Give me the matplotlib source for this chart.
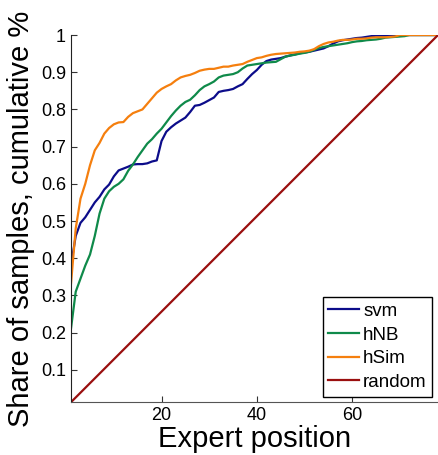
import numpy as np
import matplotlib
matplotlib.use('Agg')
import matplotlib.pyplot as plt

plt.rcParams['font.family'] = ['Liberation Sans', 'DejaVu Sans']

# cumulative share of samples by expert position (positions 1..78)
positions = np.arange(1, 79)

svm = [0.38, 0.46, 0.495, 0.51, 0.53, 0.55, 0.565, 0.585, 0.598, 0.62,
       0.636, 0.641, 0.646, 0.652, 0.653, 0.653, 0.655, 0.66, 0.663, 0.715,
       0.74, 0.752, 0.762, 0.77, 0.778, 0.793, 0.81, 0.812, 0.818, 0.825,
       0.832, 0.847, 0.85, 0.852, 0.855, 0.862, 0.868, 0.882, 0.895, 0.906,
       0.92, 0.93, 0.934, 0.936, 0.938, 0.942, 0.945, 0.948, 0.951, 0.953,
       0.955, 0.958, 0.961, 0.964, 0.97, 0.977, 0.983, 0.986, 0.988, 0.99,
       0.992, 0.993, 0.995, 0.997, 0.998, 0.998, 0.998, 0.998, 0.999, 0.999,
       1.0, 1.0, 1.0, 1.0, 1.0, 1.0, 1.0, 1.0]

hnb = [0.21, 0.31, 0.345, 0.38, 0.41, 0.46, 0.52, 0.56, 0.58, 0.592,
       0.60, 0.612, 0.635, 0.652, 0.672, 0.69, 0.708, 0.72, 0.735, 0.748,
       0.765, 0.782, 0.797, 0.81, 0.82, 0.826, 0.838, 0.852, 0.862, 0.868,
       0.875, 0.886, 0.891, 0.893, 0.895, 0.90, 0.91, 0.918, 0.92, 0.922,
       0.924, 0.926, 0.927, 0.928, 0.935, 0.942, 0.945, 0.947, 0.95, 0.952,
       0.955, 0.96, 0.965, 0.968, 0.97, 0.972, 0.974, 0.976, 0.978, 0.981,
       0.983, 0.984, 0.986, 0.987, 0.988, 0.99, 0.993, 0.994, 0.995, 0.996,
       0.997, 1.0, 1.0, 1.0, 1.0, 1.0, 1.0, 1.0]

hsim = [0.33, 0.48, 0.56, 0.60, 0.65, 0.69, 0.71, 0.735, 0.75, 0.76,
        0.765, 0.766, 0.78, 0.79, 0.795, 0.80, 0.815, 0.83, 0.845, 0.855,
        0.862, 0.868, 0.878, 0.886, 0.89, 0.893, 0.898, 0.904, 0.907, 0.909,
        0.909, 0.912, 0.915, 0.915, 0.918, 0.92, 0.922, 0.928, 0.933, 0.938,
        0.94, 0.944, 0.947, 0.949, 0.95, 0.951, 0.952, 0.953, 0.955, 0.956,
        0.958, 0.962, 0.97, 0.976, 0.98, 0.982, 0.985, 0.987, 0.987, 0.988,
        0.99, 0.99, 0.991, 0.993, 0.994, 0.994, 0.994, 0.995, 0.996, 1.0,
        1.0, 1.0, 1.0, 1.0, 1.0, 1.0, 1.0, 1.0]

random_share = positions / 78.0

fig = plt.figure(figsize=(4.38, 4.55), dpi=100)
ax = fig.add_axes([0.162, 0.116, 0.838, 0.807])

ax.plot(positions, svm, color='#0c0c8a', lw=1.6, label='svm')
ax.plot(positions, hnb, color='#0f8a4a', lw=1.6, label='hNB')
ax.plot(positions, hsim, color='#f57f0e', lw=1.6, label='hSim')
ax.plot(positions, random_share, color='#9a0f0f', lw=1.6, label='random')

ax.set_xlim(1, 78)
ax.set_ylim(1 / 78.0, 1)
ax.set_xticks([20, 40, 60])
ax.set_yticks(np.arange(1, 11) / 10)
ax.set_yticklabels(['0.1', '0.2', '0.3', '0.4', '0.5', '0.6', '0.7', '0.8', '0.9', '1'])
ax.tick_params(direction='in', length=4, labelsize=13, color='#333333')

for side in ['top', 'right']:
    ax.spines[side].set_visible(False)
ax.spines['left'].set_color('#222222')
ax.spines['bottom'].set_color('#555555')

ax.set_xlabel('Expert position', fontsize=21, labelpad=1)
ax.set_ylabel('Share of samples, cumulative %', fontsize=21, labelpad=4)

leg = ax.legend(loc='lower right', fontsize=13.5, fancybox=False, framealpha=1,
                edgecolor='black', handlelength=1.65, handletextpad=0.2,
                borderpad=0.3, labelspacing=0.35, borderaxespad=0.3)
leg.get_frame().set_linewidth(1.0)

fig.savefig('out.png', dpi=100)
